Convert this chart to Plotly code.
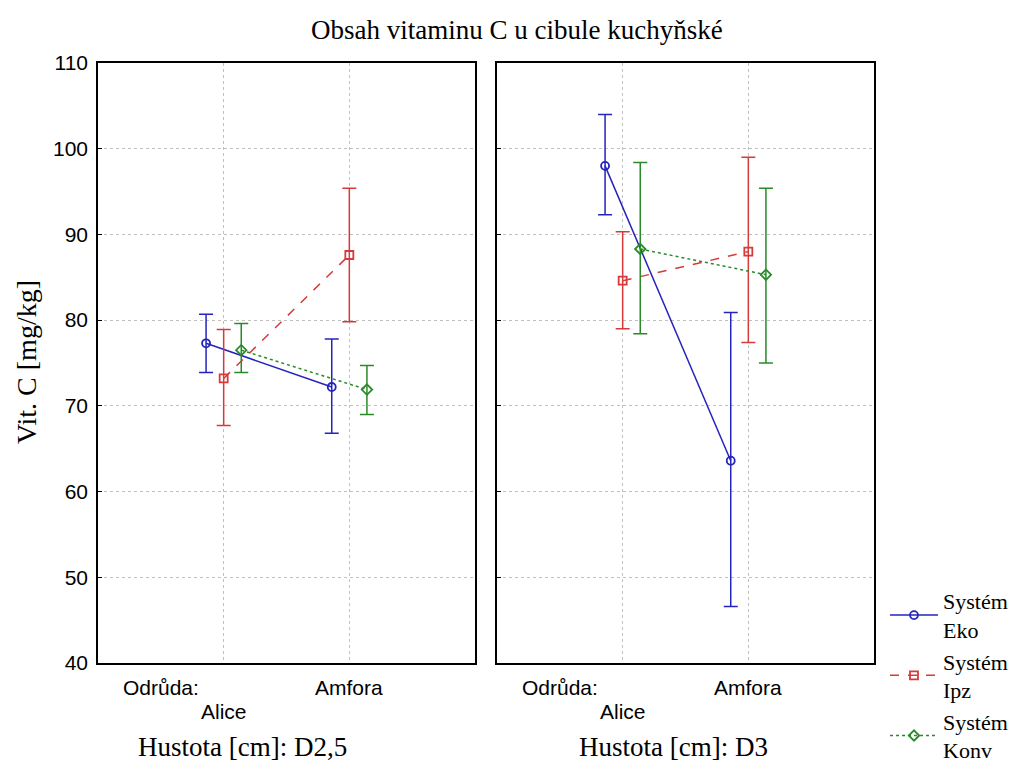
import plotly.graph_objects as go

categories = ["Alice", "Amfora"]
series = ["Systém<br>Eko", "Systém<br>Ipz", "Systém<br>Konv"]

# panel D2,5
d25_mean = {"Eko": [77.3, 72.2], "Ipz": [73.2, 87.6], "Konv": [76.5, 71.9]}
d25_hi = {"Eko": [80.7, 77.8], "Ipz": [78.9, 95.4], "Konv": [79.6, 74.7]}
d25_lo = {"Eko": [73.9, 66.8], "Ipz": [67.7, 79.8], "Konv": [73.9, 69.0]}
# panel D3
d3_mean = {"Eko": [98.0, 63.6], "Ipz": [84.6, 88.0], "Konv": [88.3, 85.3]}
d3_hi = {"Eko": [104.0, 80.9], "Ipz": [90.3, 99.0], "Konv": [98.4, 95.4]}
d3_lo = {"Eko": [92.3, 46.6], "Ipz": [79.0, 77.4], "Konv": [78.4, 75.0]}

keys = ["Eko", "Ipz", "Konv"]
offsets = {"Eko": -0.14, "Ipz": 0.0, "Konv": 0.14}
colors = {"Eko": "#2424bc", "Ipz": "#d63a3a", "Konv": "#2a8a2a"}
dashes = {"Eko": "solid", "Ipz": "dash", "Konv": "dot"}
symbols = {"Eko": "circle-open", "Ipz": "square-open", "Konv": "diamond-open"}

fig = go.Figure()
base_x = [1, 2]
for pi, (mean, hi, lo) in enumerate([(d25_mean, d25_hi, d25_lo), (d3_mean, d3_hi, d3_lo)]):
    for k, name in zip(keys, series):
        xs = [b + offsets[k] for b in base_x]
        m = mean[k]
        fig.add_trace(go.Scatter(
            x=xs, y=m, mode="lines+markers", name=name,
            xaxis="x" if pi == 0 else "x2", yaxis="y" if pi == 0 else "y2",
            showlegend=(pi == 0), legendgroup=k,
            line=dict(color=colors[k], dash=dashes[k], width=1.5),
            marker=dict(symbol=symbols[k], size=8, color=colors[k], line=dict(width=1.8, color=colors[k])),
            error_y=dict(type="data", symmetric=False,
                         array=[h - v for h, v in zip(hi[k], m)],
                         arrayminus=[v - l for l, v in zip(lo[k], m)],
                         color=colors[k], thickness=1.5, width=7),
        ))

grid = dict(showgrid=True, gridcolor="#c0c0c0", griddash="dot", gridwidth=1)
frame = dict(showline=True, linecolor="black", linewidth=1.5, mirror=True, zeroline=False)
xcommon = dict(range=[0, 3], tickvals=base_x, ticktext=["", ""], ticks="", automargin=False,
               **grid, **frame)
ycommon = dict(range=[40, 110], dtick=10, ticks="inside", ticklen=4, tickcolor="black",
               automargin=False, **grid, **frame)

ytop = 1 - 63 / 774
ybot = 1 - 663 / 774
sans = "Liberation Sans, Arial, sans-serif"
serif = "Liberation Serif, Times New Roman, serif"
fig.update_layout(
    width=1025, height=774,
    margin=dict(l=0, r=0, t=0, b=0, autoexpand=False),
    paper_bgcolor="white", plot_bgcolor="white",
    font=dict(family=sans, size=21, color="black"),
    xaxis=dict(domain=[98 / 1025, 475 / 1025], anchor="y", **xcommon),
    xaxis2=dict(domain=[497 / 1025, 874 / 1025], anchor="y2", **xcommon),
    yaxis=dict(domain=[ybot, ytop], anchor="x", showticklabels=True, ticklabelstandoff=4,
               tickfont=dict(size=21, family=sans), **ycommon),
    yaxis2=dict(domain=[ybot, ytop], anchor="x2", showticklabels=False, **ycommon),
    legend=dict(x=885 / 1025, y=1 - 580 / 774, xanchor="left", yanchor="top",
                font=dict(family=serif, size=22),
                bgcolor="rgba(0,0,0,0)", tracegroupgap=0, itemwidth=48),
    showlegend=True,
)

ann = []
def add(text, x, y, xref="paper", size=21, family=sans, angle=0):
    ann.append(dict(text=text, x=x, y=y, xref=xref, yref="paper", showarrow=False,
                    xanchor="center", yanchor="middle", textangle=angle,
                    font=dict(family=family, size=size)))

add("Obsah vitaminu C u cibule kuchyňské", 517 / 1025, 1 - 30 / 774, size=27, family=serif)
add("Vit. C [mg/kg]", 26 / 1025, 1 - 362 / 774, size=28, family=serif, angle=-90)
for xa, subt, cx in [("x", "Hustota [cm]: D2,5", 242), ("x2", "Hustota [cm]: D3", 673)]:
    add("Odrůda:", 0.5, 1 - 687 / 774, xref=xa)
    add("Alice", 1, 1 - 711 / 774, xref=xa)
    add("Amfora", 2, 1 - 687 / 774, xref=xa)
    add(subt, cx / 1025, 1 - 747 / 774, size=27, family=serif)
fig.update_layout(annotations=ann)

fig.write_html("out.html")
